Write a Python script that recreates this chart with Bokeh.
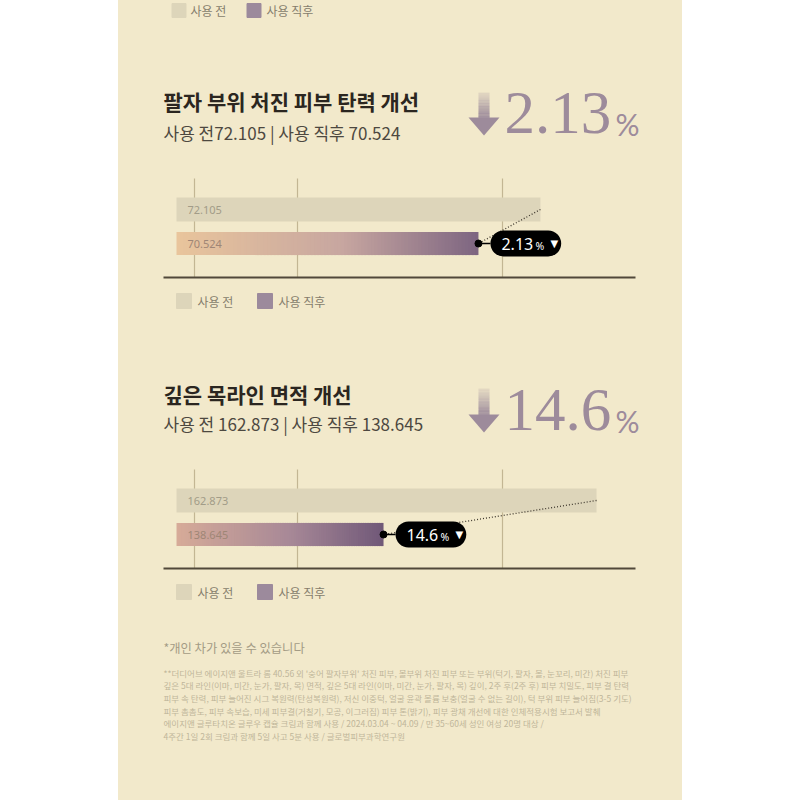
from bokeh.plotting import figure
from bokeh.models import Range1d, Spacer
from bokeh.layouts import row, column
from bokeh.embed import file_html
from bokeh.resources import INLINE
from bokeh.core.properties import value

# ---------------- data ----------------
legend_labels = ["사용 전", "사용 직후"]
titles = ["팔자 부위 처진 피부 탄력 개선", "깊은 목라인 면적 개선"]
before_vals = [72.105, 162.873]
after_vals = [70.524, 138.645]
change_pct = ["2.13", "14.6"]
axis_ranges = [(61.34, 75.73), (108.50, 172.65)]
bar_base = [62.82, 115.10]
note_title = "*개인 차가 있을 수 있습니다"
note_lines = [
    "**더디어브 에이지앤 울트라 롬 40.56 외 '숭어 팔자부위' 처진 피부, 볼부위 처진 피부 또는 부위(턱기, 팔자, 볼, 눈꼬리, 미간) 처진 피부",
    "깊은 5대 라인(이마, 미간, 눈가, 팔자, 목) 면적, 깊은 5대 라인(이마, 미간, 눈가, 팔자, 목) 깊이, 2주 후(2주 후) 피부 치밀도, 피부 결 탄력",
    "피부 속 탄력, 피부 늘어진 시그 복원력(탄성복원력), 저신 이중턱, 얼굴 윤곽 볼륨 보충(얼굴 수 없는 길이), 턱 부위 피부 늘어짐(3-5 기도)",
    "피부 촘촘도, 피부 속보습, 미세 피부결(거칠기, 모공, 이그러짐) 피부 톤(밝기), 피부 광채 개선에 대한 인체적용시험 보고서 발췌",
    "에이지앤 글루타치온 글루우 캡슐 크림과 함께 사용 / 2024.03.04 ~ 04.09 / 만 35~60세 성인 여성 20명 대상 /",
    "4주간 1일 2회 크림과 함께 5일 사고 5분 사용 / 글로벌피부과학연구원",
]

# ---------------- styles ----------------
BG = "#f2e9cb"
BEFORE = "#ddd5ba"
AFTER_LEG = "#9c8a9c"
MAUVE = "#9d8b9b"
GRID = "#c3b693"
BASE = "#51483a"
TITLE = "#2b2620"
SUB = "#4d4840"
KR = value("Noto Sans CJK KR")
W = 564

grad_stops = [
    [(0.0, "#e9c59c"), (0.55, "#c7a6a0"), (1.0, "#7d6581")],
    [(0.0, "#d6ab98"), (0.55, "#a78897"), (1.0, "#705878")],
]


def hex2rgb(h):
    h = h.lstrip("#")
    return tuple(int(h[i:i + 2], 16) for i in (0, 2, 4))


def interp(stops, t):
    for (t0, c0), (t1, c1) in zip(stops[:-1], stops[1:]):
        if t <= t1:
            f = (t - t0) / (t1 - t0) if t1 > t0 else 0
            a, b = hex2rgb(c0), hex2rgb(c1)
            return "#%02x%02x%02x" % tuple(int(round(a[k] + (b[k] - a[k]) * f)) for k in range(3))
    return stops[-1][1]


def base_fig(h, x_range, y_range):
    p = figure(width=W, height=h, x_range=x_range, y_range=y_range,
               output_backend="svg", toolbar_location=None,
               x_axis_location=None, y_axis_location=None, min_border=0)
    p.grid.visible = False
    p.outline_line_color = None
    p.background_fill_color = BG
    p.border_fill_color = BG
    return p


def arrow(p, xl, xr, ytop, yhead, ybot):
    xc = (xl + xr) / 2
    n = 24
    step = (yhead - ytop) / n
    tops = [ytop + k * step for k in range(n)]
    bots = [ytop + (k + 1) * step + 0.3 for k in range(n)]
    alphas = [0.15 + 0.85 * (k / (n - 1)) ** 1.2 for k in range(n)]
    p.quad(left=xc - 5.5, right=xc + 5.5, top=tops, bottom=bots,
           fill_color=MAUVE, fill_alpha=alphas, line_color=None)
    p.patch(x=[xl, xr, xc], y=[yhead - 1, yhead - 1, ybot], fill_color=MAUVE, line_color=None)


def header(i, h, title_y, sub_y, arrow_top, arrow_bot, num_y, pct_y, top_legend=False):
    p = base_fig(h, Range1d(0, W), Range1d(h, 0))
    if top_legend:
        p.scatter(x=[60.5, 135.5], y=[10, 10], marker="square", size=14,
                  color=[BEFORE, AFTER_LEG])
        p.text(x=[72, 148], y=[10, 10], text=legend_labels, text_font=KR,
               text_font_size="12px", text_color="#857d6c", text_baseline="middle")
    p.text(x=[45], y=[title_y], text=[titles[i]], text_font=KR, text_font_size="21px",
           text_font_style="bold", text_color=TITLE, text_baseline="middle")
    gap = "" if i == 0 else " "
    sub = f"{legend_labels[0]}{gap}{before_vals[i]:.3f} | {legend_labels[1]} {after_vals[i]:.3f}"
    p.text(x=[45], y=[sub_y], text=[sub], text_font=KR, text_font_size="17px",
           text_color=SUB, text_baseline="middle")
    arrow(p, 350, 381, arrow_top, arrow_bot - 17, arrow_bot)
    p.text(x=[386], y=[num_y], text=[change_pct[i]], text_font=value("Liberation Serif"),
           text_font_size="61px", text_color=MAUVE, text_baseline="middle")
    p.text(x=[497], y=[pct_y], text=["%"], text_font=value("Lato"),
           text_font_size="30px", text_color=MAUVE, text_baseline="middle")
    return p


def chart(i, h=150):
    x0, x1 = axis_ranges[i]
    top_u = -39 / 34
    bot_u = (h - 39) / 34
    p = base_fig(h, Range1d(x0, x1), Range1d(bot_u, top_u))
    p.extra_x_ranges = {"px": Range1d(0, W)}
    p.extra_y_ranges = {"py": Range1d(h, 0)}
    gx = [76, 179, 384]
    p.segment(x0=gx, y0=8, x1=gx, y1=107, x_range_name="px", y_range_name="py",
              line_color=GRID, line_width=1.2)
    p.segment(x0=[45], y0=[107], x1=[517], y1=[107], x_range_name="px", y_range_name="py",
              line_color=BASE, line_width=1.8)
    base = bar_base[i]
    b, a = before_vals[i], after_vals[i]
    # before bar
    p.hbar(y=[0], left=[base], right=[b], height=0.7, fill_color=BEFORE, line_color=None)
    # after bar with gradient (thin overlapping slices)
    n = 90
    d = (a - base) / n
    lefts = [base + d * k for k in range(n)]
    rights = [min(a, base + d * (k + 1.6)) for k in range(n)]
    cols = [interp(grad_stops[i], (k + 0.5) / n) for k in range(n)]
    p.hbar(y=[1] * n, left=lefts, right=rights, height=0.68, fill_color=cols,
           line_color=None)
    # value labels
    p.text(x=[base, base], y=[0, 1], text=[f"{b:.3f}", f"{a:.3f}"], x_offset=11,
           text_baseline="middle", text_font=value("Noto Sans"), text_font_size="11px",
           text_color=["#a29c88", "#9f8676"])
    # connector
    p.segment(x0=[b], y0=[0], x1=[a], y1=[1], line_dash="1 2", line_color="#3e372d",
              line_width=1.3)
    p.ray(x=[a], y=[1], length=12, length_units="screen", angle=0,
          line_color="black", line_width=1.5)
    p.scatter(x=[a], y=[1], size=7, color="black")
    # pill
    p.text(x=[a], y=[1], text=[change_pct[i]], x_offset=12, text_baseline="middle",
           text_align="left", text_font=value("Noto Sans"), text_font_size="16px",
           text_color="white", background_fill_color="black", border_radius=13,
           padding=(11, 28, 7, 7))
    p.text(x=[a], y=[1], text=["%"], x_offset=57, y_offset=2, text_baseline="middle",
           text_font=value("Noto Sans"), text_font_size="10.5px", text_color="white")
    p.text(x=[a], y=[1], text=["▼"], x_offset=72, y_offset=0, text_baseline="middle",
           text_font=value("DejaVu Sans"), text_font_size="10px", text_color="white")
    # legend
    p.scatter(x=[65.5, 146.5], y=[130.5, 130.5], marker="square", size=15,
              color=[BEFORE, AFTER_LEG], x_range_name="px", y_range_name="py")
    p.text(x=[79, 160], y=[130.5, 130.5], text=legend_labels, text_font=KR,
           text_font_size="12px", text_color="#857d6c", text_baseline="middle",
           x_range_name="px", y_range_name="py")
    return p


def footnote(h=189):
    p = base_fig(h, Range1d(0, W), Range1d(h, 0))
    p.text(x=[45], y=[36], text=[note_title], text_font=KR, text_font_size="12.3px",
           text_color="#a39b85", text_baseline="middle")
    ys = [61 + 12.7 * k for k in range(len(note_lines))]
    p.text(x=[45] * len(note_lines), y=ys, text=note_lines, text_font=KR,
           text_font_size="8.5px", text_color="#bfb69a", text_baseline="middle")
    return p


f1 = header(0, 170, 100, 132, 92, 135, 112, 123, top_legend=True)
f2 = chart(0)
f3 = header(1, 141, 73, 103, 68, 112, 89, 100)
f4 = chart(1)
f5 = footnote()

col = column(f1, f2, f3, f4, f5, spacing=0, styles={"background-color": BG})
layout = row(Spacer(width=118, height=800), col, spacing=0)

open("out.html", "w").write(file_html(layout, INLINE))
